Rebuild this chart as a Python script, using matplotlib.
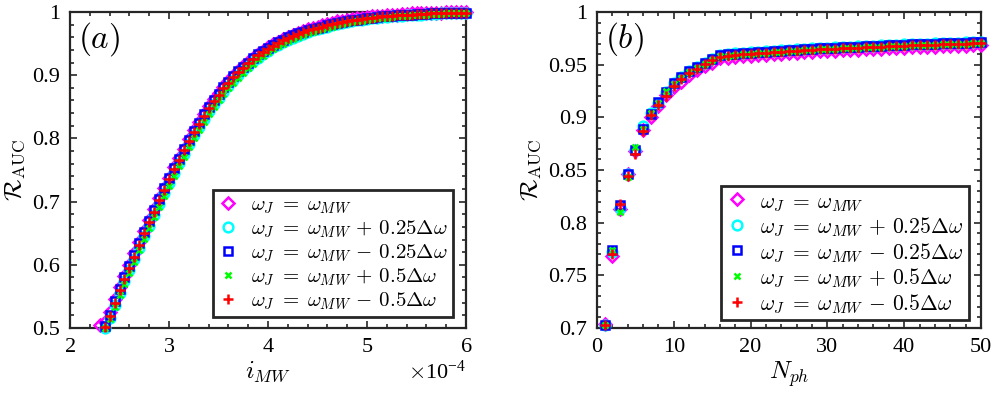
import numpy as np
import matplotlib
matplotlib.use("Agg")
import matplotlib.pyplot as plt
from matplotlib.ticker import MultipleLocator, FuncFormatter, ScalarFormatter

# ---- panel (a): R_AUC vs i_MW ----
i_mw = np.round(np.arange(2.30, 6.001, 0.05), 2) * 1e-4

a_mag = [0.505, 0.510, 0.526, 0.546, 0.565, 0.583, 0.600, 0.618, 0.636, 0.654,
         0.671, 0.688, 0.706, 0.722, 0.738, 0.754, 0.769, 0.784, 0.799, 0.813,
         0.826, 0.839, 0.851, 0.862, 0.872, 0.882, 0.891, 0.899, 0.907, 0.914,
         0.921, 0.928, 0.934, 0.939, 0.944, 0.949, 0.953, 0.957, 0.961, 0.964,
         0.967, 0.970, 0.973, 0.975, 0.977, 0.979, 0.981, 0.983, 0.985, 0.986,
         0.987, 0.989, 0.990, 0.991, 0.992, 0.993, 0.994, 0.994, 0.995, 0.996,
         0.996, 0.997, 0.997, 0.998, 0.998, 0.998, 0.999, 0.999, 0.999, 0.999,
         1.000, 1.000, 1.000, 1.000, 1.000]
# the other four series start one step later (x = 2.35e-4)
a_cyan = [0.500, 0.516, 0.536, 0.556, 0.574, 0.591, 0.609, 0.627, 0.645, 0.662,
          0.679, 0.697, 0.714, 0.730, 0.746, 0.761, 0.776, 0.791, 0.805, 0.818,
          0.831, 0.843, 0.854, 0.864, 0.874, 0.883, 0.892, 0.900, 0.908, 0.915,
          0.922, 0.928, 0.934, 0.939, 0.944, 0.948, 0.952, 0.956, 0.959, 0.962,
          0.965, 0.968, 0.971, 0.973, 0.975, 0.977, 0.979, 0.981, 0.982, 0.984,
          0.985, 0.987, 0.988, 0.989, 0.990, 0.991, 0.992, 0.992, 0.993, 0.994,
          0.994, 0.995, 0.995, 0.996, 0.996, 0.997, 0.997, 0.997, 0.998, 0.998,
          0.998, 0.998, 0.999, 0.999]
a_blue = [0.503, 0.521, 0.542, 0.562, 0.580, 0.598, 0.616, 0.634, 0.652, 0.669,
          0.686, 0.704, 0.721, 0.737, 0.753, 0.768, 0.783, 0.798, 0.812, 0.825,
          0.838, 0.850, 0.861, 0.871, 0.881, 0.890, 0.898, 0.906, 0.913, 0.920,
          0.927, 0.933, 0.938, 0.943, 0.948, 0.952, 0.956, 0.960, 0.963, 0.966,
          0.969, 0.971, 0.973, 0.975, 0.977, 0.979, 0.981, 0.983, 0.984, 0.985,
          0.987, 0.988, 0.989, 0.990, 0.991, 0.992, 0.993, 0.993, 0.994, 0.995,
          0.995, 0.996, 0.996, 0.997, 0.997, 0.997, 0.998, 0.998, 0.998, 0.998,
          0.999, 0.999, 0.999, 0.999]
a_green = [0.500, 0.514, 0.533, 0.552, 0.570, 0.587, 0.605, 0.623, 0.641, 0.658,
           0.675, 0.692, 0.709, 0.725, 0.741, 0.756, 0.771, 0.786, 0.800, 0.813,
           0.826, 0.838, 0.849, 0.860, 0.870, 0.879, 0.888, 0.896, 0.904, 0.911,
           0.918, 0.925, 0.931, 0.936, 0.941, 0.946, 0.950, 0.954, 0.957, 0.960,
           0.963, 0.966, 0.969, 0.971, 0.973, 0.975, 0.977, 0.979, 0.981, 0.982,
           0.984, 0.985, 0.986, 0.988, 0.989, 0.990, 0.991, 0.991, 0.992, 0.993,
           0.994, 0.994, 0.995, 0.995, 0.996, 0.996, 0.997, 0.997, 0.997, 0.998,
           0.998, 0.998, 0.998, 0.999]
a_red = [0.502, 0.519, 0.540, 0.560, 0.578, 0.595, 0.613, 0.632, 0.650, 0.667,
         0.684, 0.702, 0.719, 0.735, 0.751, 0.766, 0.781, 0.796, 0.810, 0.823,
         0.836, 0.848, 0.859, 0.869, 0.879, 0.888, 0.897, 0.905, 0.912, 0.919,
         0.926, 0.932, 0.937, 0.942, 0.947, 0.951, 0.955, 0.959, 0.962, 0.965,
         0.968, 0.971, 0.973, 0.975, 0.977, 0.979, 0.981, 0.983, 0.984, 0.985,
         0.987, 0.988, 0.989, 0.990, 0.991, 0.992, 0.993, 0.993, 0.994, 0.995,
         0.995, 0.996, 0.996, 0.997, 0.997, 0.997, 0.998, 0.998, 0.998, 0.998,
         0.999, 0.999, 0.999, 0.999]

# ---- panel (b): R_AUC vs N_ph ----
n_ph = np.arange(1, 51)

b_mag = [0.704, 0.768, 0.813, 0.846, 0.868, 0.888, 0.900, 0.911, 0.921, 0.929,
         0.934, 0.940, 0.945, 0.949, 0.952, 0.956, 0.956, 0.957, 0.958, 0.958,
         0.959, 0.959, 0.960, 0.960, 0.961, 0.961, 0.962, 0.962, 0.963, 0.963,
         0.963, 0.964, 0.964, 0.964, 0.965, 0.965, 0.965, 0.966, 0.966, 0.966,
         0.967, 0.967, 0.967, 0.967, 0.968, 0.968, 0.968, 0.968, 0.969, 0.969]
b_cyan = [0.703, 0.772, 0.814, 0.846, 0.869, 0.892, 0.904, 0.914, 0.924, 0.933,
          0.938, 0.944, 0.948, 0.952, 0.955, 0.959, 0.960, 0.961, 0.961, 0.962,
          0.962, 0.963, 0.963, 0.964, 0.964, 0.965, 0.965, 0.966, 0.966, 0.966,
          0.967, 0.967, 0.967, 0.968, 0.968, 0.968, 0.969, 0.969, 0.969, 0.970,
          0.970, 0.970, 0.970, 0.971, 0.971, 0.971, 0.971, 0.972, 0.972, 0.972]
b_blue = [0.703, 0.774, 0.817, 0.846, 0.869, 0.889, 0.903, 0.915, 0.924, 0.933,
          0.938, 0.944, 0.948, 0.952, 0.955, 0.959, 0.960, 0.960, 0.961, 0.961,
          0.962, 0.962, 0.963, 0.963, 0.964, 0.964, 0.965, 0.965, 0.966, 0.966,
          0.966, 0.967, 0.967, 0.967, 0.968, 0.968, 0.968, 0.969, 0.969, 0.969,
          0.970, 0.970, 0.970, 0.970, 0.971, 0.971, 0.971, 0.971, 0.972, 0.972]
b_green = [0.703, 0.774, 0.810, 0.843, 0.872, 0.889, 0.904, 0.914, 0.925, 0.932,
           0.937, 0.943, 0.947, 0.951, 0.954, 0.958, 0.958, 0.959, 0.960, 0.960,
           0.961, 0.961, 0.962, 0.962, 0.963, 0.963, 0.964, 0.964, 0.965, 0.965,
           0.965, 0.966, 0.966, 0.966, 0.967, 0.967, 0.967, 0.968, 0.968, 0.968,
           0.969, 0.969, 0.969, 0.969, 0.970, 0.970, 0.970, 0.970, 0.971, 0.971]
b_red = [0.703, 0.770, 0.818, 0.844, 0.865, 0.887, 0.902, 0.912, 0.920, 0.930,
         0.936, 0.942, 0.946, 0.951, 0.954, 0.957, 0.958, 0.959, 0.960, 0.960,
         0.961, 0.961, 0.962, 0.962, 0.963, 0.963, 0.964, 0.964, 0.965, 0.965,
         0.965, 0.966, 0.966, 0.966, 0.967, 0.967, 0.967, 0.968, 0.968, 0.968,
         0.969, 0.969, 0.969, 0.969, 0.970, 0.970, 0.970, 0.970, 0.971, 0.971]

labels = [r'$\omega_J \;=\; \omega_{MW}$',
          r'$\omega_J \;=\; \omega_{MW} \,+\, 0.25\Delta\omega$',
          r'$\omega_J \;=\; \omega_{MW} \,-\, 0.25\Delta\omega$',
          r'$\omega_J \;=\; \omega_{MW} \,+\, 0.5\Delta\omega$',
          r'$\omega_J \;=\; \omega_{MW} \,-\, 0.5\Delta\omega$']

styles = [dict(marker='D', color='#ff00ff', ms=6),
          dict(marker='o', color='#00ffff', ms=7),
          dict(marker='s', color='#0000ff', ms=6),
          dict(marker='x', color='#00ff00', ms=5),
          dict(marker='+', color='#ff0000', ms=7)]

dark = '#262626'
plt.rcParams['font.family'] = ['Liberation Serif', 'DejaVu Serif']
plt.rcParams['mathtext.fontset'] = 'cm'
plt.rcParams['axes.linewidth'] = 1.6
plt.rcParams['axes.edgecolor'] = dark

fig = plt.figure(figsize=(9.96, 3.95), dpi=100)
ax_a = fig.add_axes([0.0703, 0.1696, 0.3976, 0.800])
ax_b = fig.add_axes([0.5994, 0.1696, 0.3855, 0.800])


def draw(ax, xs_list, ys_list):
    for xs, ys, st, lab in zip(xs_list, ys_list, styles, labels):
        ax.plot(xs, ys, linestyle='none', marker=st['marker'], ms=st['ms'],
                markerfacecolor='none', markeredgecolor=st['color'],
                markeredgewidth=1.8, label=lab, clip_on=False)


def style_axes(ax):
    ax.tick_params(which='both', direction='in', top=True, right=True,
                   colors=dark, labelcolor='black', labelsize=16, width=1.2)
    ax.tick_params(which='major', length=5, pad=7)
    ax.tick_params(which='minor', length=3)
    ax.yaxis.set_major_formatter(FuncFormatter(lambda v, p: f'{v:g}'))
    for sp in ax.spines.values():
        sp.set_zorder(0)


draw(ax_a, [i_mw] + [i_mw[1:]] * 4, [a_mag, a_cyan, a_blue, a_green, a_red])
ax_a.set_xlim(2e-4, 6e-4)
ax_a.set_ylim(0.5, 1.0)
ax_a.xaxis.set_major_locator(MultipleLocator(1e-4))
ax_a.xaxis.set_minor_locator(MultipleLocator(0.2e-4))
ax_a.yaxis.set_major_locator(MultipleLocator(0.1))
ax_a.yaxis.set_minor_locator(MultipleLocator(0.02))
fmt = ScalarFormatter(useMathText=True)
fmt.set_powerlimits((-3, 3))
ax_a.xaxis.set_major_formatter(fmt)
style_axes(ax_a)
ax_a.xaxis.get_offset_text().set_fontsize(16)
ax_a.set_xlabel(r'$i_{MW}$', fontsize=18, labelpad=2)
ax_a.set_ylabel(r'$\mathcal{R}_{\mathrm{AUC}}$', fontsize=18, labelpad=4)
ax_a.text(0.02, 0.975, r'$(a)$', transform=ax_a.transAxes, fontsize=24,
          ha='left', va='top')

draw(ax_b, [n_ph] * 5, [b_mag, b_cyan, b_blue, b_green, b_red])
ax_b.set_xlim(0, 50)
ax_b.set_ylim(0.7, 1.0)
ax_b.xaxis.set_major_locator(MultipleLocator(10))
ax_b.xaxis.set_minor_locator(MultipleLocator(2))
ax_b.yaxis.set_major_locator(MultipleLocator(0.05))
ax_b.yaxis.set_minor_locator(MultipleLocator(0.01))
style_axes(ax_b)
ax_b.set_xlabel(r'$N_{ph}$', fontsize=18, labelpad=2)
ax_b.set_ylabel(r'$\mathcal{R}_{\mathrm{AUC}}$', fontsize=18, labelpad=4)
ax_b.text(0.02, 0.975, r'$(b)$', transform=ax_b.transAxes, fontsize=24,
          ha='left', va='top')

for ax, anchor, fs in [(ax_a, (0.967, 0.035), 15), (ax_b, (0.969, 0.025), 15.5)]:
    leg = ax.legend(loc='lower right', bbox_to_anchor=anchor, fontsize=fs,
                    fancybox=False, framealpha=1, edgecolor=dark,
                    borderpad=0.25, labelspacing=0.12, handlelength=1.0,
                    handletextpad=0.6, borderaxespad=0)
    leg.get_frame().set_linewidth(2.0)

fig.savefig('out.png', dpi=100)
